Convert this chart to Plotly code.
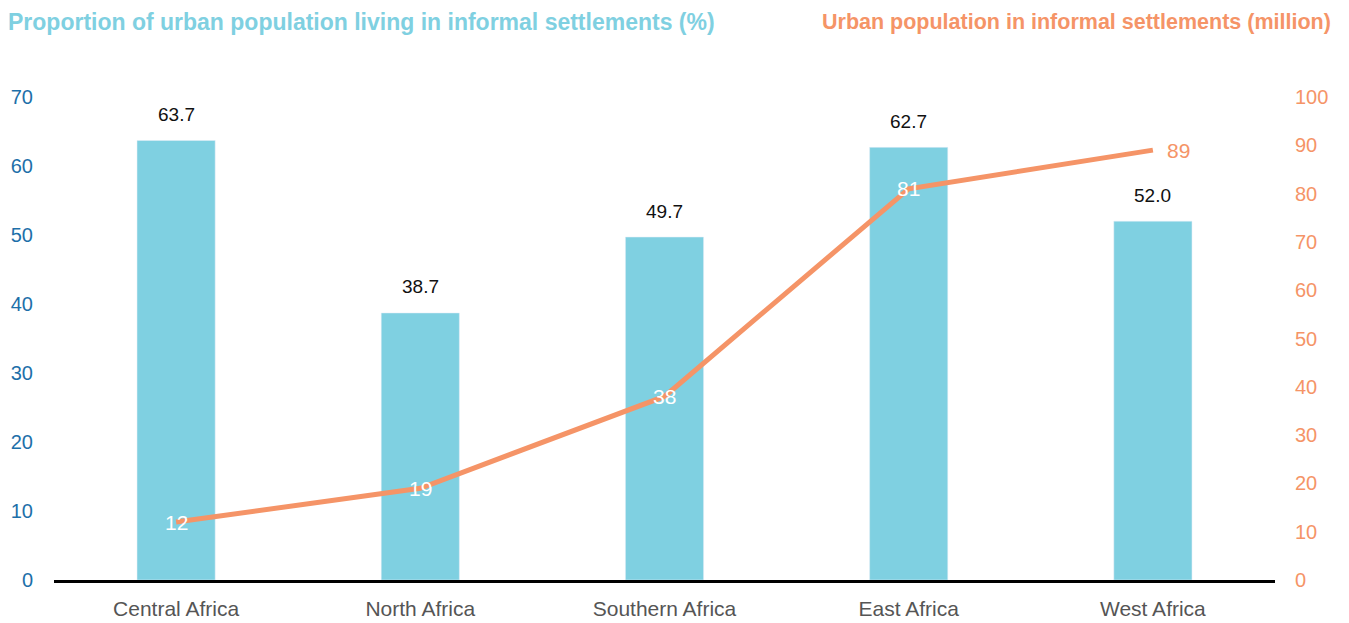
import plotly.graph_objects as go

categories = ["Central Africa", "North Africa", "Southern Africa", "East Africa", "West Africa"]
proportion_pct = [63.7, 38.7, 49.7, 62.7, 52.0]
population_mil = [12, 19, 38, 81, 89]
left_ticks = [0, 10, 20, 30, 40, 50, 60, 70]
right_ticks = [0, 10, 20, 30, 40, 50, 60, 70, 80, 90, 100]

BLUE = "#7fd0e1"
ORANGE = "#f59467"
DARKBLUE = "#1d6fa9"
FONT = "Liberation Sans, Arial, sans-serif"

fig = go.Figure()
fig.add_trace(go.Bar(
    x=categories, y=proportion_pct, marker_color=BLUE, width=0.32,
    yaxis="y", showlegend=False, hoverinfo="skip",
))
fig.add_trace(go.Scatter(
    x=categories, y=population_mil, mode="lines",
    line=dict(color=ORANGE, width=5), yaxis="y2", showlegend=False,
))

annotations = []
for c, v in zip(categories, proportion_pct):
    annotations.append(dict(
        x=c, y=v, xref="x", yref="y", text=f"{v:.1f}", showarrow=False,
        yshift=26, font=dict(family=FONT, size=19, color="#111111"),
    ))
for i, (c, v) in enumerate(zip(categories, population_mil)):
    last = i == len(categories) - 1
    annotations.append(dict(
        x=c, y=v, xref="x", yref="y2", text=str(v), showarrow=False,
        xshift=26 if last else 0, yshift=0,
        font=dict(family=FONT, size=21, color=ORANGE if last else "white"),
    ))
annotations.append(dict(
    x=0, y=1, xref="paper", yref="paper", xanchor="left", yanchor="middle",
    xshift=-48, yshift=75,
    text="<b>Proportion of urban population living in informal settlements (%)</b>",
    showarrow=False, font=dict(family=FONT, size=23, color=BLUE),
))
annotations.append(dict(
    x=1, y=1, xref="paper", yref="paper", xanchor="right", yanchor="middle",
    xshift=58, yshift=75,
    text="<b>Urban population in informal settlements (million)</b>",
    showarrow=False, font=dict(family=FONT, size=21.5, color=ORANGE),
))

fig.update_layout(
    width=1333, height=615,
    margin=dict(l=46, r=66, t=89, b=43),
    paper_bgcolor="white", plot_bgcolor="white",
    font=dict(family=FONT),
    xaxis=dict(
        showline=True, linecolor="black", linewidth=2.5, showgrid=False,
        ticks="", tickfont=dict(family=FONT, size=21, color="#555555"),
        range=[-0.5, 4.5], fixedrange=True, ticklabelstandoff=8, automargin=False,
    ),
    yaxis=dict(
        range=[0, 70], tickvals=left_ticks, showgrid=False, zeroline=False,
        tickfont=dict(family=FONT, size=20, color=DARKBLUE), ticklabelstandoff=20,
        automargin=False,
    ),
    yaxis2=dict(
        range=[0, 100], tickvals=right_ticks, overlaying="y", side="right",
        showgrid=False, zeroline=False,
        tickfont=dict(family=FONT, size=20, color=ORANGE), ticklabelstandoff=19,
        automargin=False,
    ),
    annotations=annotations,
)

fig.write_html("out.html")
